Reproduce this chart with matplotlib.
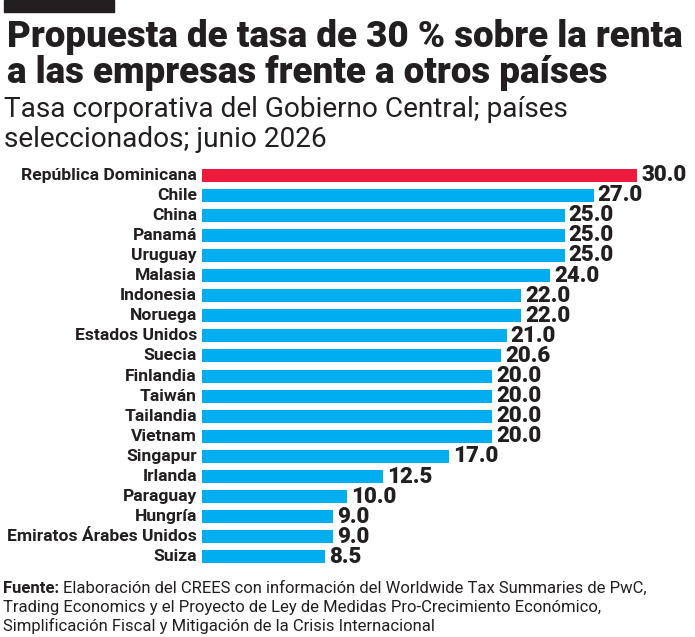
import matplotlib
matplotlib.use("Agg")
import matplotlib.pyplot as plt

paises = ["República Dominicana", "Chile", "China", "Panamá", "Uruguay", "Malasia",
          "Indonesia", "Noruega", "Estados Unidos", "Suecia", "Finlandia", "Taiwán",
          "Tailandia", "Vietnam", "Singapur", "Irlanda", "Paraguay", "Hungría",
          "Emiratos Árabes Unidos", "Suiza"]
tasas = [30.0, 27.0, 25.0, 25.0, 25.0, 24.0, 22.0, 22.0, 21.0, 20.6,
         20.0, 20.0, 20.0, 20.0, 17.0, 12.5, 10.0, 9.0, 9.0, 8.5]

plt.rcParams["font.family"] = ["Roboto", "DejaVu Sans"]

negro = "#231F20"
rojo = "#EF1B3E"
azul = "#00AEEF"

fig = plt.figure(figsize=(6.95, 6.37), dpi=100)
ax = fig.add_axes([202 / 695, 1 - 567 / 637, 493 / 695, 402 / 637])

y = list(range(len(paises)))
colores = [rojo] + [azul] * (len(paises) - 1)
ax.barh(y, tasas, height=0.65, color=colores)
ax.set_xlim(0, 493 / 14.5)
ax.set_ylim(len(paises) - 0.5, -0.5)
ax.axis("off")

for i, (p, v) in enumerate(zip(paises, tasas)):
    ax.text(-0.35, i, p, ha="right", va="center", fontsize=12.6, fontweight="bold", color=negro)
    ax.text(v + 0.3, i, f"{v:.1f}", ha="left", va="center", fontsize=16, fontweight="heavy", color=negro)

# barrita negra arriba
fig.patches.append(plt.Rectangle((4 / 695, 1 - 12 / 637), 110 / 695, 12 / 637,
                                 transform=fig.transFigure, color=negro))
fig.text(7 / 695, 1 - 47 / 637, "Propuesta de tasa de 30 % sobre la renta", fontsize=26.5,
         fontweight="heavy", color=negro, va="baseline")
fig.text(7 / 695, 1 - 83 / 637, "a las empresas frente a otros países", fontsize=26.5,
         fontweight="heavy", color=negro, va="baseline")
fig.text(4 / 695, 1 - 117 / 637, "Tasa corporativa del Gobierno Central; países", fontsize=20.2,
         color=negro, va="baseline")
fig.text(4 / 695, 1 - 147 / 637, "seleccionados; junio 2026", fontsize=20.2,
         color=negro, va="baseline")

fuente = fig.text(3 / 695, 1 - 593 / 637, "Fuente:", fontsize=12, fontweight="bold",
                  color=negro, va="baseline")
ax.annotate("Elaboración del CREES con información del Worldwide Tax Summaries de PwC,",
            xy=(1, 0), xycoords=fuente, xytext=(2.5, 0), textcoords="offset points",
            fontsize=12, color=negro, va="bottom", ha="left", annotation_clip=False)
fig.text(3 / 695, 1 - 612 / 637, "Trading Economics y el Proyecto de Ley de Medidas Pro-Crecimiento Económico,",
         fontsize=12, color=negro, va="baseline")
fig.text(3 / 695, 1 - 631 / 637, "Simplificación Fiscal y Mitigación de la Crisis Internacional",
         fontsize=12, color=negro, va="baseline")

fig.savefig("out.png", dpi=100)
